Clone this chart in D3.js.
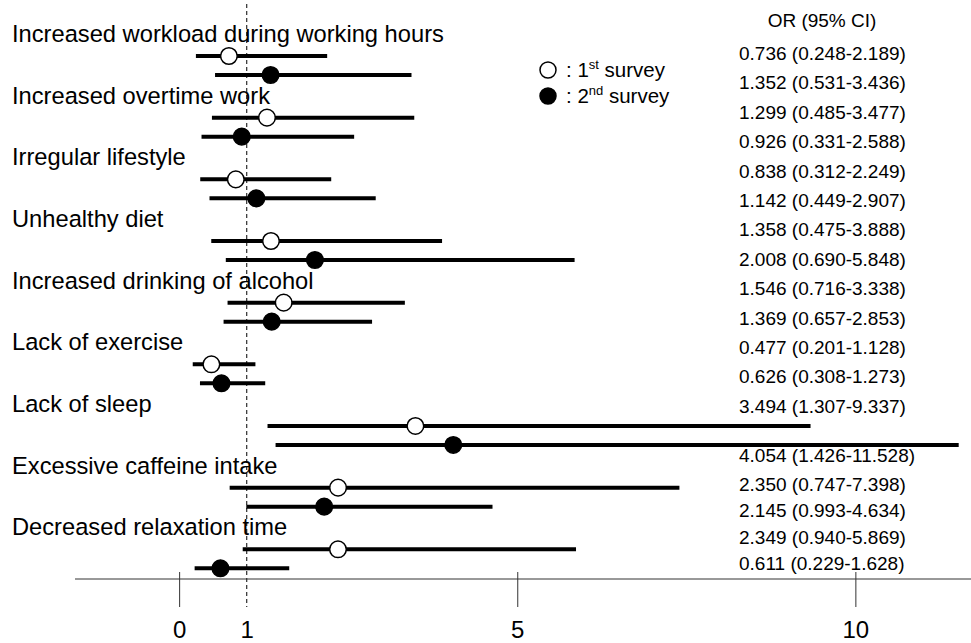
<!DOCTYPE html>
<html>
<head>
<meta charset="utf-8">
<script src="https://cdn.jsdelivr.net/npm/d3@7"></script>
<style>
  html, body { margin: 0; padding: 0; background: #fff; }
  svg text { font-family: "Liberation Sans", Arial, sans-serif; fill: #000; }
</style>
</head>
<body>
<svg id="chart" width="971" height="643"></svg>
<script>
// Factors and odds ratios (95% CI) for the two surveys
const categories = [
  "Increased workload during working hours",
  "Increased overtime work",
  "Irregular lifestyle",
  "Unhealthy diet",
  "Increased drinking of alcohol",
  "Lack of exercise",
  "Lack of sleep",
  "Excessive caffeine intake",
  "Decreased relaxation time"
];
const or1 = [0.736, 1.299, 0.838, 1.358, 1.546, 0.477, 3.494, 2.350, 2.349];
const lo1 = [0.248, 0.485, 0.312, 0.475, 0.716, 0.201, 1.307, 0.747, 0.940];
const hi1 = [2.189, 3.477, 2.249, 3.888, 3.338, 1.128, 9.337, 7.398, 5.869];
const or2 = [1.352, 0.926, 1.142, 2.008, 1.369, 0.626, 4.054, 2.145, 0.611];
const lo2 = [0.531, 0.331, 0.449, 0.690, 0.657, 0.308, 1.426, 0.993, 0.229];
const hi2 = [3.436, 2.588, 2.907, 5.848, 2.853, 1.273, 11.528, 4.634, 1.628];
const tickValues = [0, 1, 5, 10];
const surveys = ["1st", "2nd"];

const svg = d3.select("#chart");

// x: odds ratio on a linear scale
const x = d3.scaleLinear().domain([-1.54, 11.71]).range([75, 971]);
// y: one slot per factor; second survey sits just below the first
const y = d3.scalePoint().domain(categories).range([56, 549.3]);
const pairGap = 19;

// rows (factor x survey)
const rows = [];
categories.forEach((c, i) => {
  rows.push({ c, s: 0, or: or1[i], lo: lo1[i], hi: hi1[i] });
  rows.push({ c, s: 1, or: or2[i], lo: lo2[i], hi: hi2[i] });
});
const rowY = d => y(d.c) + d.s * pairGap;

const axisY = 579;
const textX = 739, textEnd = 905, textTop = 60, textBottom = 570, textStep = 29.4;

// OR text column: evenly stacked; a row whose bar runs past the whole
// column drops its text just under the bar and the rest re-spread below it
const textY = [];
{
  let i = 0;
  while (i < rows.length) {
    const d = rows[i];
    if (x(d.hi) > textEnd) {
      const yy = rowY(d) + 17;
      textY.push(yy);
      const rest = rows.length - 1 - i;
      const s = d3.scaleLinear().domain([1, rest]).range([yy + 29, textBottom]);
      for (let k = 1; k <= rest; k++) textY.push(s(k));
      break;
    }
    textY.push(textTop + i * textStep);
    i++;
  }
}

// reference line at OR = 1
svg.append("line")
  .attr("x1", x(1)).attr("x2", x(1))
  .attr("y1", 4).attr("y2", 607)
  .attr("stroke", "#000").attr("stroke-width", 1)
  .attr("stroke-dasharray", "4,3");

// axis
const axis = d3.axisBottom(x)
  .tickValues(tickValues)
  .tickFormat(d3.format("d"))
  .tickSizeInner(28)
  .tickSizeOuter(0);
const gAxis = svg.append("g")
  .attr("transform", `translate(0,${axisY})`)
  .call(axis);
gAxis.select(".domain").remove();
gAxis.append("line")
  .attr("x1", x.range()[0]).attr("x2", x.range()[1])
  .attr("y1", 0).attr("y2", 0)
  .attr("stroke", "#333").attr("stroke-width", 1);
gAxis.selectAll(".tick line")
  .attr("y1", -7).attr("stroke", "#333")
  .filter(d => d === 1).remove();
gAxis.selectAll(".tick text")
  .attr("y", 59).attr("dy", 0)
  .attr("font-size", 24)
  .attr("font-family", "Liberation Sans, Arial, sans-serif")
  .attr("fill", "#000");

// factor labels
svg.append("g").selectAll("text")
  .data(categories)
  .join("text")
  .attr("x", 12)
  .attr("y", d => y(d) - 14)
  .attr("font-size", 23.7)
  .text(d => d);

// CI bars
svg.append("g").selectAll("line")
  .data(rows)
  .join("line")
  .attr("x1", d => x(d.lo))
  .attr("x2", d => x(d.hi))
  .attr("y1", rowY).attr("y2", rowY)
  .attr("stroke", "#000").attr("stroke-width", 4);

// point estimates
svg.append("g").selectAll("circle")
  .data(rows)
  .join("circle")
  .attr("cx", d => x(d.or))
  .attr("cy", rowY)
  .attr("r", 8.3)
  .attr("fill", d => d.s === 0 ? "#fff" : "#000")
  .attr("stroke", "#000").attr("stroke-width", 1.5);

// OR (95% CI) column
svg.append("text")
  .attr("x", 822).attr("y", 27)
  .attr("text-anchor", "middle")
  .attr("font-size", 19)
  .text("OR (95% CI)");
const f3 = d3.format(".3f");
svg.append("g").selectAll("text")
  .data(rows)
  .join("text")
  .attr("x", textX)
  .attr("y", (d, i) => textY[i])
  .attr("font-size", 19)
  .text(d => `${f3(d.or)} (${f3(d.lo)}-${f3(d.hi)})`);

// legend
const legend = svg.append("g");
surveys.forEach((s, i) => {
  const ly = 70 + i * 26;
  legend.append("circle")
    .attr("cx", 548).attr("cy", ly).attr("r", 8)
    .attr("fill", i === 0 ? "#fff" : "#000")
    .attr("stroke", "#000").attr("stroke-width", 1.5);
  const t = legend.append("text")
    .attr("x", 566).attr("y", ly + 7)
    .attr("font-size", 20.5);
  t.append("tspan").text(": " + s.slice(0, 1));
  t.append("tspan").attr("font-size", 13).attr("dy", -8).text(s.slice(1));
  t.append("tspan").attr("dy", 8).text(" survey");
});
</script>
</body>
</html>
